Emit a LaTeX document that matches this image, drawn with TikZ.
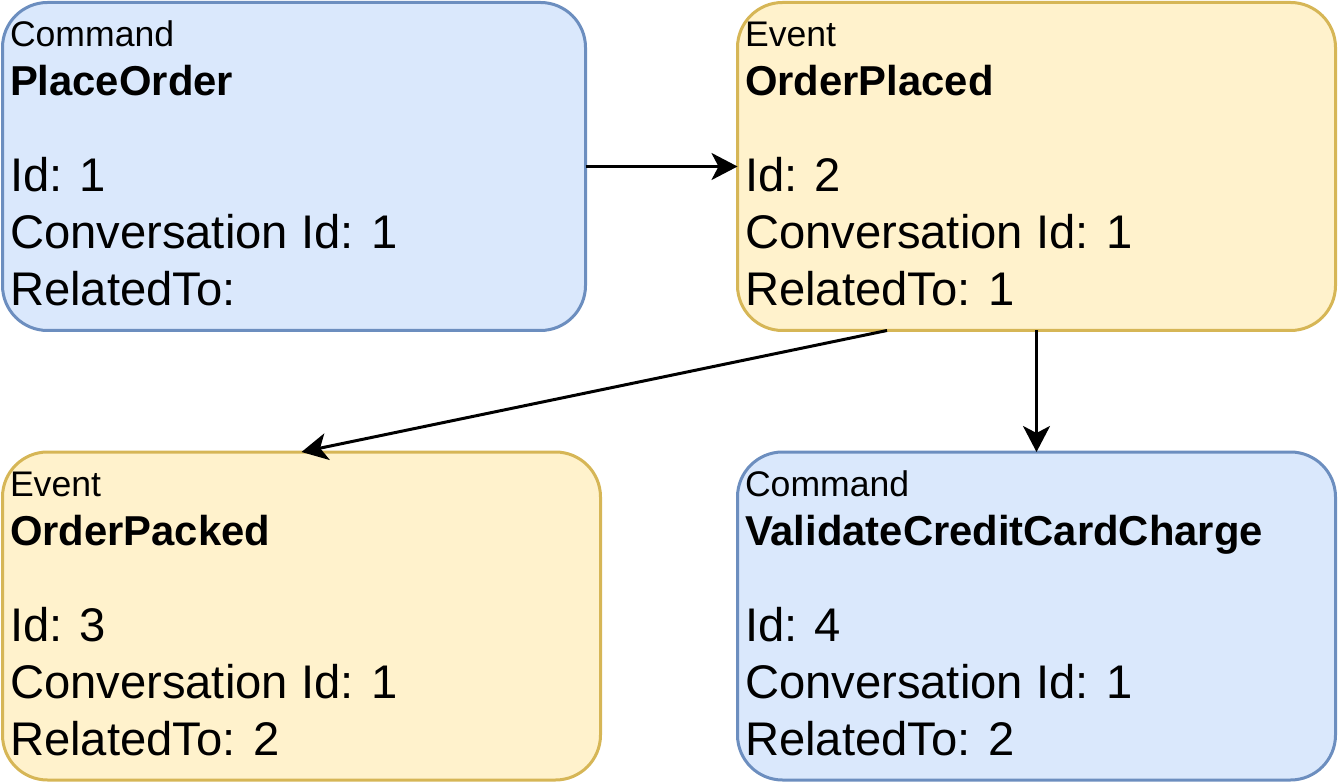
\documentclass[tikz,border=0pt]{standalone}
\usepackage{fontspec}
\setmainfont{Liberation Sans}
\usetikzlibrary{arrows.meta,calc}
\definecolor{cmdfill}{HTML}{DAE8FC}
\definecolor{cmdline}{HTML}{6C8EBF}
\definecolor{evtfill}{HTML}{FFF2CC}
\definecolor{evtline}{HTML}{D6B656}
\newcommand{\smallfnt}{\fontsize{35.6}{42}\selectfont}
\newcommand{\boldfnt}{\fontsize{41.8}{50}\selectfont\bfseries}
\newcommand{\bigfnt}{\fontsize{47.2}{57}\selectfont}
\newcommand{\mkboxtext}[6]{%
  \node[txt,font=\smallfnt] (#1k) at ($(#1.north west)+(7.5,44.5)$) {#2};
  \node[txt,font=\boldfnt] (#1t) at ($(#1.north west)+(7.5,93.5)$) {#3};
  \node[txt,font=\bigfnt] (#1i) at ($(#1.north west)+(7.5,189.5)$) {Id: #4};
  \node[txt,font=\bigfnt] (#1c) at ($(#1.north west)+(7.5,246.5)$) {Conversation Id: #5};
  \node[txt,font=\bigfnt] (#1r) at ($(#1.north west)+(7.5,303.5)$) {RelatedTo:#6};
}
\begin{document}
\begin{tikzpicture}[x=1pt,y=-1pt,
  box/.style={draw,line width=3pt,rounded corners=45pt,anchor=north west,inner sep=0pt,outer sep=0pt},
  cmd/.style={box,fill=cmdfill,draw=cmdline},
  evt/.style={box,fill=evtfill,draw=evtline},
  txt/.style={anchor=base west,inner sep=0pt,outer sep=0pt,text=black},
  conn/.style={line width=3pt,-{Stealth[length=26pt,width=27pt,inset=7pt]}}]
\useasboundingbox (0,0) rectangle (1338,783);
\node[cmd,minimum width=583pt,minimum height=328pt] (b1) at (2.5,2.5) {};
\node[evt,minimum width=598pt,minimum height=328pt] (b2) at (737.5,2.5) {};
\node[evt,minimum width=598pt,minimum height=328pt] (b3) at (2.5,452) {};
\node[cmd,minimum width=598pt,minimum height=328pt] (b4) at (737.5,452) {};
\mkboxtext{b1}{Command}{PlaceOrder}{1}{1}{}
\mkboxtext{b2}{Event}{OrderPlaced}{2}{1}{ 1}
\mkboxtext{b3}{Event}{OrderPacked}{3}{1}{ 2}
\mkboxtext{b4}{Command}{ValidateCreditCardCharge}{4}{1}{ 2}
\coordinate (s2) at ($(b2.south west)!0.25!(b2.south east)$);
\draw[conn] (b1.east) -- (b2.west);
\draw[conn] (s2) -- (b3.north);
\draw[conn] (b2.south) -- (b4.north);
\end{tikzpicture}
\end{document}
